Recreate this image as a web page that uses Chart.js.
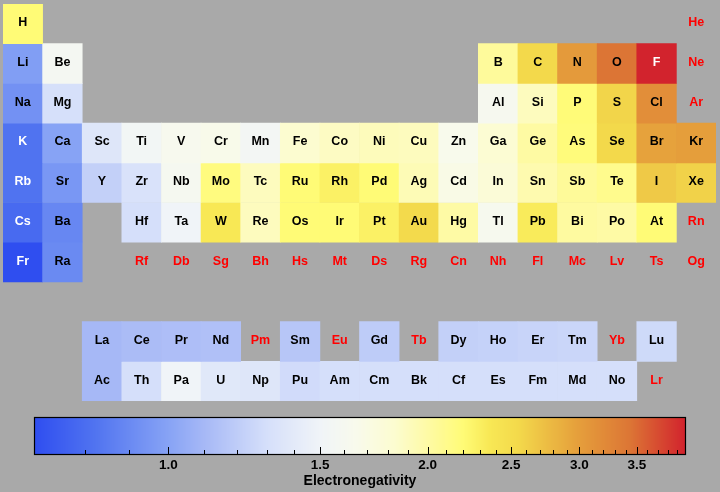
<!DOCTYPE html>
<html><head><meta charset="utf-8">
<script src="https://cdn.jsdelivr.net/npm/chart.js@4/dist/chart.umd.min.js"></script>
<style>
html,body{margin:0;padding:0;background:#a9a9a9;}
#wrap{position:relative;width:720px;height:492px;overflow:hidden;}
#main{position:absolute;left:0;top:0;}
#cbar{position:absolute;left:0;top:405px;}
</style></head><body>
<div id="wrap">
<canvas id="main" width="720" height="405"></canvas>
<canvas id="cbar" width="720" height="87"></canvas>
</div>
<script>
// ---------- data ----------
const symbols = ['H','He','Li','Be','B','C','N','O','F','Ne','Na','Mg','Al','Si','P','S','Cl','Ar',
'K','Ca','Sc','Ti','V','Cr','Mn','Fe','Co','Ni','Cu','Zn','Ga','Ge','As','Se','Br','Kr',
'Rb','Sr','Y','Zr','Nb','Mo','Tc','Ru','Rh','Pd','Ag','Cd','In','Sn','Sb','Te','I','Xe',
'Cs','Ba','La','Ce','Pr','Nd','Pm','Sm','Eu','Gd','Tb','Dy','Ho','Er','Tm','Yb','Lu',
'Hf','Ta','W','Re','Os','Ir','Pt','Au','Hg','Tl','Pb','Bi','Po','At','Rn',
'Fr','Ra','Ac','Th','Pa','U','Np','Pu','Am','Cm','Bk','Cf','Es','Fm','Md','No','Lr',
'Rf','Db','Sg','Bh','Hs','Mt','Ds','Rg','Cn','Nh','Fl','Mc','Lv','Ts','Og'];

const electronegativity = [2.20,null,0.98,1.57,2.04,2.55,3.04,3.44,3.98,null,0.93,1.31,1.61,1.90,2.19,2.58,3.16,null,
0.82,1.00,1.36,1.54,1.63,1.66,1.55,1.83,1.88,1.91,1.90,1.65,1.81,2.01,2.18,2.55,2.96,3.00,
0.82,0.95,1.22,1.33,1.6,2.16,1.9,2.2,2.28,2.20,1.93,1.69,1.78,1.96,2.05,2.1,2.66,2.6,
0.79,0.89,1.1,1.12,1.13,1.14,null,1.17,null,1.2,null,1.22,1.23,1.24,1.25,null,1.27,
1.3,1.5,2.36,1.9,2.2,2.20,2.28,2.54,2.00,1.62,2.33,2.02,2.0,2.2,null,
0.7,0.9,1.1,1.3,1.5,1.38,1.36,1.28,1.3,1.3,1.3,1.3,1.3,1.3,1.3,1.3,null,
null,null,null,null,null,null,null,null,null,null,null,null,null,null,null];

const groups = [1,18,
1,2,13,14,15,16,17,18,
1,2,13,14,15,16,17,18,
1,2,3,4,5,6,7,8,9,10,11,12,13,14,15,16,17,18,
1,2,3,4,5,6,7,8,9,10,11,12,13,14,15,16,17,18,
1,2,3,4,5,6,7,8,9,10,11,12,13,14,15,16,17,
4,5,6,7,8,9,10,11,12,13,14,15,16,17,18,
1,2,3,4,5,6,7,8,9,10,11,12,13,14,15,16,17,
4,5,6,7,8,9,10,11,12,13,14,15,16,17,18];

const tableRows = [1,1,
2,2,2,2,2,2,2,2,
3,3,3,3,3,3,3,3,
4,4,4,4,4,4,4,4,4,4,4,4,4,4,4,4,4,4,
5,5,5,5,5,5,5,5,5,5,5,5,5,5,5,5,5,5,
6,6,9,9,9,9,9,9,9,9,9,9,9,9,9,9,9,
6,6,6,6,6,6,6,6,6,6,6,6,6,6,6,
7,7,10,10,10,10,10,10,10,10,10,10,10,10,10,10,10,
7,7,7,7,7,7,7,7,7,7,7,7,7,7,7];

const columnLabels = ['1','2','3','4','5','6','7','8','9','10','11','12','13','14','15','16','17','18'];
const displayRows = [1,2,3,4,5,6,7,9,10];
const colorbarMajorTicks = [1.0,1.5,2.0,2.5,3.0,3.5];
const colorbarMinorTicks = [0.8,0.9,1.1,1.2,1.3,1.4,1.6,1.7,1.8,1.9,2.1,2.2,2.3,2.4,2.6,2.7,2.8,2.9,3.1,3.2,3.3,3.4,3.6,3.7,3.8,3.9];
const enMin = 0.7, enMax = 3.98;

// ---------- colormap (log-spaced) ----------
const cmapStops = [
 [0.70,[47,78,240]],[0.82,[80,115,240]],[1.00,[135,163,245]],[1.10,[166,184,246]],
 [1.30,[213,223,250]],[1.50,[240,244,248]],[1.65,[248,250,236]],[1.83,[252,252,208]],
 [2.00,[254,250,165]],[2.20,[255,251,118]],[2.36,[248,232,85]],[2.55,[243,217,75]],
 [2.96,[230,162,60]],[3.44,[220,117,53]],[3.98,[210,35,45]]];
function cmap(v){
  if (v <= cmapStops[0][0]) return 'rgb('+cmapStops[0][1].join(',')+')';
  for (let i=1;i<cmapStops.length;i++){
    const [v1,c1]=cmapStops[i], [v0,c0]=cmapStops[i-1];
    if (v <= v1){
      const f=(Math.log(v)-Math.log(v0))/(Math.log(v1)-Math.log(v0));
      const c=c0.map((a,k)=>Math.round(a+(c1[k]-a)*f));
      return 'rgb('+c.join(',')+')';
    }
  }
  return 'rgb('+cmapStops[cmapStops.length-1][1].join(',')+')';
}

Chart.defaults.font.family = '"Liberation Sans", Arial, Helvetica, sans-serif';

// ---------- table datasets ----------
const datasets = displayRows.map(r => {
  const data = columnLabels.map(()=>null);
  const colors = columnLabels.map(()=>'rgba(0,0,0,0)');
  symbols.forEach((s,i)=>{
    if (tableRows[i]===r && electronegativity[i]!==null){
      data[groups[i]-1] = [r-1, r];
      colors[groups[i]-1] = cmap(electronegativity[i]);
    }
  });
  return {label:'row '+r, data, backgroundColor:colors, borderWidth:0,
          barPercentage:1, categoryPercentage:1, grouped:false};
});

const labelPlugin = {
  id:'symbols',
  afterDatasetsDraw(chart){
    const {ctx, scales:{x,y}} = chart;
    ctx.save();
    ctx.font = 'bold 12.5px "Liberation Sans", Arial, sans-serif';
    ctx.textAlign='center'; ctx.textBaseline='middle';
    symbols.forEach((s,i)=>{
      const v = electronegativity[i];
      const px = x.getPixelForValue(groups[i]-1);
      const py = y.getPixelForValue(tableRows[i]-0.5) - 1;
      let col = '#000';
      if (v===null) col = '#ff0000';
      else if (v < 0.85 || v > 3.7) col = '#ffffff';
      ctx.fillStyle = col;
      ctx.fillText(s, px, py);
    });
    ctx.restore();
  }
};

new Chart(document.getElementById('main'), {
  type:'bar',
  data:{labels:columnLabels, datasets},
  options:{
    responsive:false, animation:false,
    layout:{padding:{left:3,right:4,top:4,bottom:4}},
    plugins:{legend:{display:false}, tooltip:{enabled:false}},
    scales:{
      x:{type:'category', display:false, offset:true},
      y:{type:'linear', display:false, min:0, max:10, reverse:true}
    }
  },
  plugins:[labelPlugin]
});

// ---------- colorbar ----------
const colorbarPlugin = {
  id:'colorbar',
  beforeDatasetsDraw(chart){
    const {ctx, chartArea:{left,right,top,bottom}, scales:{x}} = chart;
    ctx.save();
    for (let px=left; px<right; px++){
      ctx.fillStyle = cmap(x.getValueForPixel(px+0.5));
      ctx.fillRect(px, top, 1.5, bottom-top);
    }
    ctx.strokeStyle='#000'; ctx.lineWidth=1;
    ctx.beginPath();
    colorbarMinorTicks.forEach(v=>{
      const p = Math.round(x.getPixelForValue(v))+0.5;
      ctx.moveTo(p,bottom); ctx.lineTo(p,bottom-4);
    });
    colorbarMajorTicks.forEach(v=>{
      const p = Math.round(x.getPixelForValue(v))+0.5;
      ctx.moveTo(p,bottom); ctx.lineTo(p,bottom-7);
    });
    ctx.stroke();
    ctx.lineWidth=1.2;
    ctx.strokeRect(left-0.5, top-0.5, right-left+1, bottom-top+1);
    ctx.restore();
  }
};

new Chart(document.getElementById('cbar'), {
  type:'scatter',
  data:{datasets:[{data:[]}]},
  options:{
    responsive:false, animation:false,
    layout:{padding:{left:35,right:35,top:13,bottom:2}},
    plugins:{legend:{display:false}, tooltip:{enabled:false}},
    scales:{
      x:{type:'logarithmic', position:'bottom', min:enMin, max:enMax, bounds:'data',
         afterBuildTicks:(s)=>{ s.ticks = colorbarMajorTicks.map(v=>({value:v})); },
         grid:{display:false, drawTicks:false}, border:{display:false},
         ticks:{color:'#000', font:{size:13.5, weight:'bold'}, padding:3, autoSkip:false, maxRotation:0,
                callback:(v)=>Number(v).toFixed(1)},
         title:{display:true, text:'Electronegativity', color:'#000', font:{size:14, weight:'bold'}, padding:{top:4,bottom:0}}
      },
      y:{display:false, min:0, max:1}
    }
  },
  plugins:[colorbarPlugin]
});
</script>
</body></html>
